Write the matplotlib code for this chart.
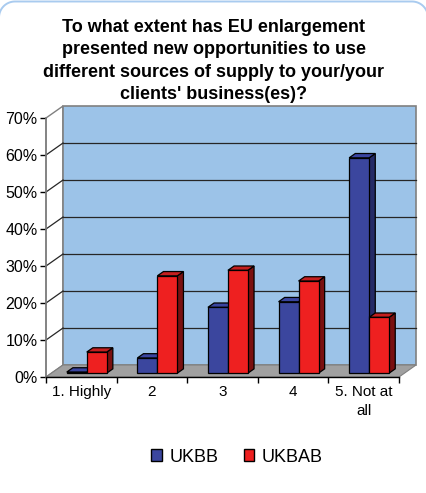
import numpy as np
import matplotlib
matplotlib.use("Agg")
import matplotlib.pyplot as plt
from matplotlib.lines import Line2D
from matplotlib.patches import Polygon, Rectangle, Patch

plt.rcParams['font.family'] = ['Liberation Sans', 'DejaVu Sans']

title = ("To what extent has EU enlargement\n"
         "presented new opportunities to use\n"
         "different sources of supply to your/your\n"
         "clients' business(es)?")
categories = ["1. Highly", "2", "3", "4", "5. Not at\nall"]
ukbb = [0.3, 4.1, 17.8, 19.3, 58.2]
ukbab = [5.7, 26.3, 27.8, 24.9, 15.1]
series_names = ["UKBB", "UKBAB"]

blue = ("#3b469e", "#3a45a0", "#252a66")   # front, top, side
red = ("#ee2020", "#c41f1f", "#7a1010")
wall = "#9cc3e8"
floor = "#a0a0a0"

W, H = 427, 493
fig = plt.figure(figsize=(W / 100, H / 100), dpi=100)

# top edge of the rounded chart frame (pixels, origin bottom-left)
r = 16
a_left = np.linspace(np.pi, np.pi / 2, 20)
a_right = np.linspace(np.pi / 2, 0, 20)
fx = np.concatenate([-1 + r + r * np.cos(a_left), W + 1 - r + r * np.cos(a_right)])
fy = np.concatenate([H - 1.5 - r + r * np.sin(a_left), H - 1.5 - r + r * np.sin(a_right)])
fig.add_artist(Line2D(fx / W, fy / H, transform=fig.transFigure,
                      color="#a9cbef", lw=1.4))

ax = fig.add_axes([46 / W, 116 / H, 353 / W, 259 / H])
n = len(categories)
ymax = 70
ax.set_xlim(0, n)
ax.set_ylim(0, ymax)

# depth of the 3d box in data units
DX, DY = 0.241, 3.24

# side wall
ax.add_patch(Polygon([(0, 0), (DX, DY), (DX, ymax + DY), (0, ymax)],
                     closed=True, facecolor="white", edgecolor="#808080",
                     linewidth=1, clip_on=False, zorder=1))
# back wall
ax.add_patch(Rectangle((DX, DY), n, ymax, facecolor=wall, edgecolor="#808080",
                       linewidth=1.2, clip_on=False, zorder=1))
# floor
ax.add_patch(Polygon([(0, 0), (n, 0), (n + DX, DY), (DX, DY)], closed=True,
                     facecolor=floor, edgecolor="#808080", linewidth=0.8,
                     clip_on=False, zorder=2))

for v in range(10, ymax, 10):
    ax.plot([DX, n + DX], [v + DY, v + DY], color="#262626", lw=0.9,
            clip_on=False, zorder=1.5)
    ax.plot([0, DX], [v, v + DY], color="#262626", lw=0.9,
            clip_on=False, zorder=1.5)

w = 0.283
t0, t1 = 0.32, 0.68
ddx, ddy = (t1 - t0) * DX, (t1 - t0) * DY


def bar3d(x, val, cols, z):
    x0 = x + t0 * DX
    base = t0 * DY
    top = val + base
    kw = dict(edgecolor="black", linewidth=0.9, clip_on=False, zorder=z)
    ax.add_patch(Polygon([(x0 + w, base), (x0 + w + ddx, base + ddy),
                          (x0 + w + ddx, top + ddy), (x0 + w, top)],
                         closed=True, facecolor=cols[2], **kw))
    ax.add_patch(Polygon([(x0, top), (x0 + w, top), (x0 + w + ddx, top + ddy),
                          (x0 + ddx, top + ddy)], closed=True,
                         facecolor=cols[1], **kw))
    ax.add_patch(Rectangle((x0, base), w, val, facecolor=cols[0], **kw))


for i in range(n):
    c = i + 0.5
    bar3d(c - w, ukbb[i], blue, 3 + i * 0.1)
    bar3d(c, ukbab[i], red, 3.05 + i * 0.1)

# axes, ticks and labels
for s in ["top", "right"]:
    ax.spines[s].set_visible(False)
ax.spines["left"].set_color("#808080")
ax.spines["left"].set_linewidth(1.2)
ax.spines["bottom"].set_color("black")
ax.spines["bottom"].set_linewidth(1.0)
ax.spines["left"].set_zorder(5)
ax.spines["bottom"].set_zorder(5)
ax.patch.set_visible(False)

ax.set_yticks(range(0, ymax + 1, 10))
ax.set_yticklabels([f"{v}%" for v in range(0, ymax + 1, 10)], fontsize=11.5)
ax.set_xticks(range(n + 1))
ax.set_xticklabels([""] * (n + 1))
ax.set_xticks([i + 0.5 for i in range(n)], minor=True)
ax.set_xticklabels(categories, minor=True, fontsize=11, va="top",
                   linespacing=1.45)
ax.tick_params(axis="y", length=4, width=1, color="black", pad=2)
ax.tick_params(axis="x", which="major", length=4, width=1, color="black")
ax.tick_params(axis="x", which="minor", length=0, pad=6)

fig.text(214 / W, 1 - 61 / H, title, ha="center", va="center",
         fontsize=13, fontweight="bold", linespacing=1.4)

handles = [Patch(facecolor=blue[0], edgecolor="black", linewidth=1),
           Patch(facecolor=red[0], edgecolor="black", linewidth=1)]
fig.legend(handles, series_names, loc="center", ncol=2, frameon=False,
           bbox_to_anchor=(237 / W, 1 - 457 / H), fontsize=13,
           handlelength=0.6, handleheight=0.6, handletextpad=0.4,
           columnspacing=1.4)

fig.savefig("out.png", dpi=100)
